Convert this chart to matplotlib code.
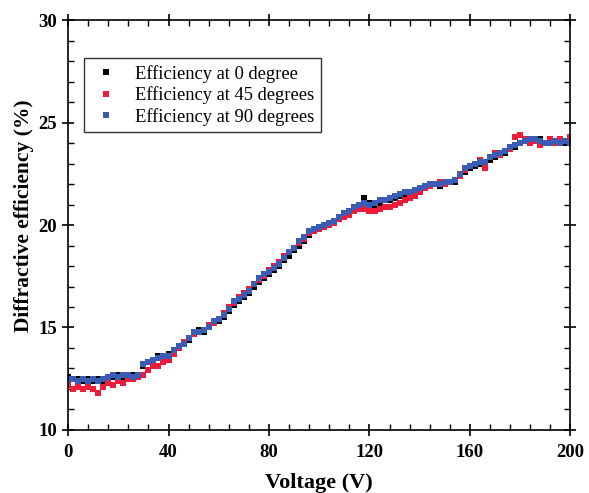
import matplotlib.pyplot as plt
from matplotlib.ticker import MultipleLocator

# Voltage (V), paso de 2 V
voltage = list(range(0, 201, 2))

eff_0 = [12.6, 12.5, 12.5, 12.4, 12.5, 12.4,
         12.5, 12.4, 12.6, 12.6, 12.7, 12.6, 12.7, 12.7, 12.6,
         13.1, 13.3, 13.3, 13.6, 13.5, 13.7,
         13.8, 14.0, 14.3, 14.4, 14.7,
         14.9, 14.8, 15.0, 15.2, 15.3,
         15.5, 15.8, 16.1, 16.3, 16.5,
         16.7, 17.0, 17.2, 17.4, 17.6,
         17.8, 18.0, 18.3, 18.5, 18.8,
         19.0, 19.2, 19.5, 19.7, 19.8,
         19.9, 20.0, 20.2, 20.3, 20.5,
         20.7, 20.8, 21.0, 21.3, 21.1,
         21.0, 21.1, 21.2, 21.2, 21.3,
         21.4, 21.5, 21.6, 21.6, 21.7,
         21.8, 21.9, 22.0, 21.9, 22.0,
         22.1, 22.1, 22.4, 22.6, 22.8,
         22.9, 23.0, 23.0, 23.2, 23.3,
         23.5, 23.5, 23.7, 23.8, 24.0,
         24.2, 24.1, 24.2, 24.2, 24.0,
         24.1, 24.0, 24.1, 24.0, 24.0]

eff_45 = [12.2, 12.0, 12.1, 12.0, 12.1, 12.0,
          11.8, 12.1, 12.3, 12.2, 12.4, 12.3, 12.5, 12.5, 12.6,
          12.7, 12.9, 13.1, 13.1, 13.3, 13.4,
          13.7, 14.0, 14.3, 14.5, 14.7,
          14.8, 14.9, 15.1, 15.2, 15.4,
          15.7, 16.0, 16.2, 16.5, 16.7,
          16.9, 17.1, 17.3, 17.5, 17.8,
          18.0, 18.2, 18.5, 18.7, 18.9,
          19.1, 19.3, 19.6, 19.7, 19.8,
          19.9, 20.0, 20.1, 20.3, 20.4,
          20.5, 20.7, 20.8, 20.8, 20.7,
          20.7, 20.8, 20.9, 20.9, 21.0,
          21.1, 21.2, 21.3, 21.4, 21.6,
          21.8, 21.9, 22.0, 22.1, 22.0,
          22.1, 22.2, 22.4, 22.7, 22.9,
          23.0, 23.2, 22.8, 23.3, 23.5,
          23.4, 23.6, 23.7, 24.3, 24.4,
          24.2, 24.0, 24.1, 23.9, 24.0,
          24.2, 24.0, 24.2, 24.1, 24.3]

eff_90 = [12.5, 12.5, 12.4, 12.5, 12.4, 12.5,
          12.4, 12.5, 12.6, 12.7, 12.6, 12.7, 12.7, 12.6, 12.7,
          13.2, 13.3, 13.4, 13.5, 13.6, 13.6,
          13.9, 14.1, 14.2, 14.5, 14.8,
          14.8, 14.9, 15.0, 15.3, 15.4,
          15.6, 15.9, 16.3, 16.4, 16.6,
          16.8, 17.1, 17.4, 17.6, 17.7,
          17.9, 18.1, 18.4, 18.7, 18.9,
          19.2, 19.4, 19.7, 19.8, 19.9,
          20.0, 20.1, 20.2, 20.4, 20.6,
          20.7, 20.9, 21.0, 21.1, 21.0,
          21.1, 21.2, 21.2, 21.3, 21.4,
          21.5, 21.6, 21.6, 21.7, 21.8,
          21.9, 22.0, 22.0, 22.0, 22.1,
          22.1, 22.2, 22.5, 22.8, 22.9,
          23.0, 23.1, 23.1, 23.3, 23.4,
          23.5, 23.6, 23.8, 23.9, 24.0,
          24.1, 24.2, 24.2, 24.1, 24.0,
          24.0, 24.1, 24.0, 24.1, 24.0]

labels = ['Efficiency at 0 degree', 'Efficiency at 45 degrees', 'Efficiency at 90 degrees']
colors = ['black', '#ee1c3a', '#3a5cb4']

plt.rcParams['font.family'] = 'Liberation Serif'

fig = plt.figure(figsize=(5.89, 4.93), dpi=100)
ax = fig.add_axes([0.1155, 0.128, 0.853, 0.831])

for y, lab, c in zip([eff_0, eff_45, eff_90], labels, colors):
    ax.plot(voltage, y, linestyle='none', marker='s', markersize=5,
            markeredgewidth=0, color=c, label=lab)

ax.set_xlim(0, 200)
ax.set_ylim(10, 30)
ax.xaxis.set_major_locator(MultipleLocator(40))
ax.xaxis.set_minor_locator(MultipleLocator(8))
ax.yaxis.set_major_locator(MultipleLocator(5))
ax.yaxis.set_minor_locator(MultipleLocator(1))
ax.tick_params(which='major', direction='inout', length=9, width=1.2,
               top=True, right=True, labelsize=13.5)
ax.tick_params(axis='x', which='major', pad=6)
ax.tick_params(which='minor', direction='in', length=4, width=1,
               top=True, right=True)
for lbl in ax.get_xticklabels() + ax.get_yticklabels():
    lbl.set_fontweight('bold')
for s in ax.spines.values():
    s.set_linewidth(1.2)

ax.set_xlabel('Voltage (V)', fontsize=16, fontweight='bold', labelpad=8)
ax.set_ylabel('Diffractive efficiency (%)', fontsize=15.5, fontweight='bold')
ax.yaxis.set_label_coords(-0.068, 0.524)

leg = ax.legend(loc='upper left', bbox_to_anchor=(0.032, 0.907), frameon=True,
                fancybox=False, edgecolor='black', fontsize=13.3,
                handletextpad=0.7, borderpad=0.35, labelspacing=0.2,
                handlelength=1.7, markerscale=0.8, borderaxespad=0)
leg.get_frame().set_linewidth(1.0)

fig.savefig('out.png', dpi=100)
